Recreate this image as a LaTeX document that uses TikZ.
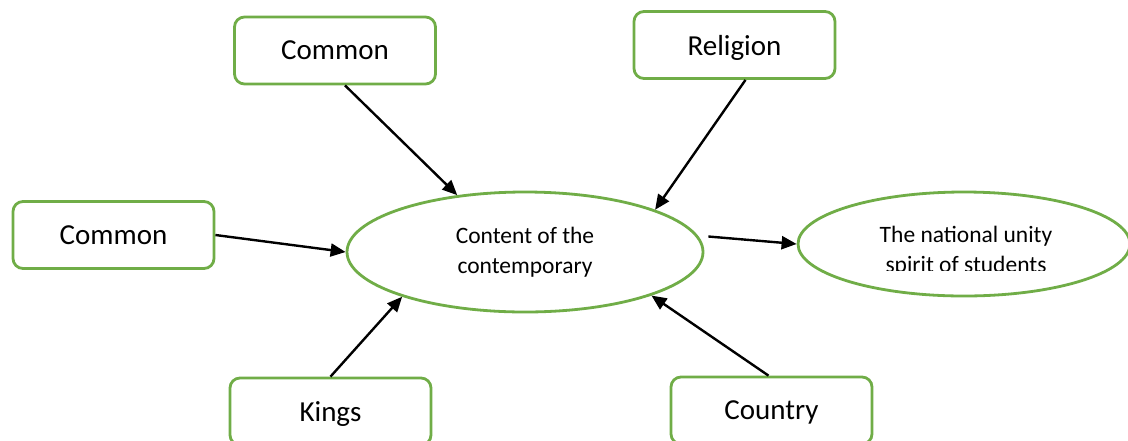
\documentclass[tikz,border=0pt]{standalone}
\usepackage{fontspec}
\setmainfont{Carlito}
\usetikzlibrary{shapes.geometric,arrows.meta,calc}
\definecolor{bgreen}{RGB}{112,173,71}
\begin{document}
\begin{tikzpicture}[x=0.5pt,y=-0.5pt,
  box/.style={draw=bgreen,line width=1.4pt,rounded corners=5pt,minimum width=100.5pt,minimum height=33.5pt,inner sep=0pt,text depth=0pt,font=\fontsize{14.5}{17}\selectfont},
  oval/.style={draw=bgreen,line width=1.4pt,ellipse,inner sep=0pt,align=center,font=\fontsize{11.75}{15}\selectfont},
  txt/.style={align=center,inner sep=0pt,font=\fontsize{11.75}{15}\selectfont},
  arr/.style={-{Triangle[length=7.5pt,width=6.5pt]},line width=1.2pt,black}]
\useasboundingbox (0,0) rectangle (1128,440);
\clip (0,0) rectangle (1128,440);
\fill[white] (0,0) rectangle (1128,440);

\node[box] (c1) at (335,50.5) {Common};
\node[box] (rel) at (734.5,45) {Religion};
\node[box] (c2) at (113.5,235) {Common};
\node[box] (kings) at (330.5,411.5) {Kings};
\node[box] (country) at (771.5,410.5) {Country};

\node[oval,minimum width=178pt,minimum height=60pt] (main) at (525,252) {Content of the\\contemporary};
\node[oval,minimum width=166pt,minimum height=52pt] (spirit) at (964,244) {};
\begin{scope}
  \clip (800,180) rectangle (1128,270.5);
  \node[txt] (spirittext) at (966,251) {The national unity\\spirit of students};
\end{scope}

\draw[arr] ($(c1.south)+(10,0)$) -- (main.140.4);
\draw[arr] ($(rel.south)+(11,0)$) -- (main.18.5);
\draw[arr] (c2.east) -- (main.180.8);
\draw[arr] (kings.north) -- (main.200.3);
\draw[arr] ($(country.north)+(-3,0)$) -- (main.-19.6);
\draw[arr] ($(main.east)+(4,-15.5)$) -- (spirit.west);
\end{tikzpicture}
\end{document}
